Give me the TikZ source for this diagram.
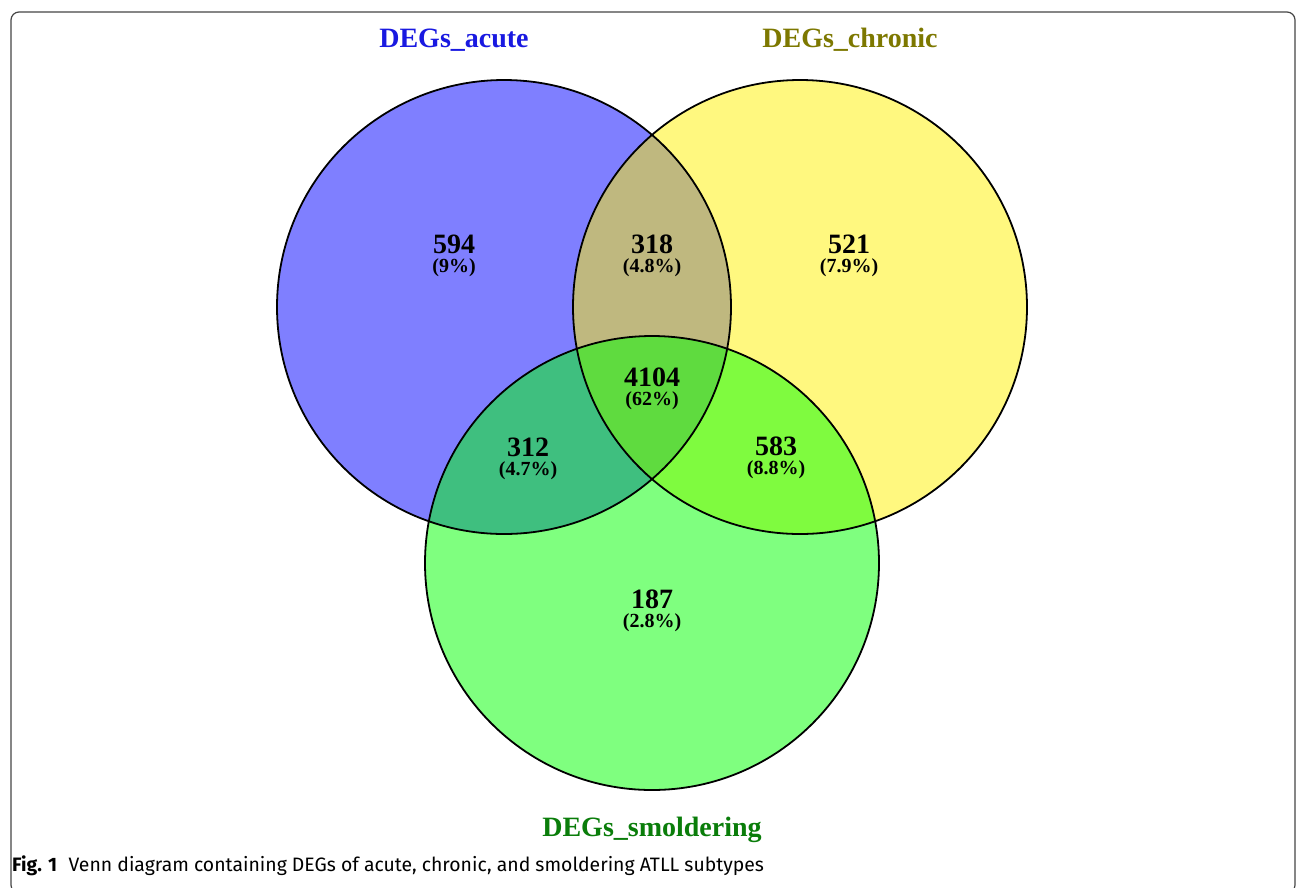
\documentclass[tikz,border=0pt]{standalone}
\usepackage{fontspec}
\setmainfont{Liberation Serif}
\newfontfamily\capfont{Fira Sans}
\definecolor{acuteblue}{RGB}{25,25,225}
\definecolor{chronicolive}{RGB}{125,120,0}
\definecolor{smoldgreen}{RGB}{10,125,10}
\definecolor{framegray}{RGB}{70,70,70}
\tikzset{
  setfill/.style={fill opacity=0.5},
  setline/.style={draw=black, line width=1.8pt},
  countlbl/.style={font=\bfseries\fontsize{28}{30}\selectfont, inner sep=0pt},
  pctlbl/.style={font=\bfseries\fontsize{20}{22}\selectfont, inner sep=0pt},
  titlelbl/.style={font=\bfseries\fontsize{28}{30}\selectfont, inner sep=0pt},
}
\begin{document}
\begin{tikzpicture}[x=1pt,y=-1pt]
\useasboundingbox (0,0) rectangle (1296,887);
\fill[white] (0,0) rectangle (1296,887);
\draw[framegray, line width=1.2pt, rounded corners=8pt] (11,12) rectangle (1295,893);
% centres
\coordinate (A) at (504,307);
\coordinate (C) at (800,307);
\coordinate (S) at (652,563);
% fills
\fill[blue, setfill] (A) circle (227);
\fill[yellow, setfill] (C) circle (227);
\fill[green, setfill] (S) circle (227);
% outlines
\draw[setline] (A) circle (227);
\draw[setline] (C) circle (227);
\draw[setline] (S) circle (227);
% titles
\node[titlelbl, text=acuteblue] (tA) at (454,40) {DEGs\_acute};
\node[titlelbl, text=chronicolive] (tC) at (850,40) {DEGs\_chronic};
\node[titlelbl, text=smoldgreen] (tS) at (652,830) {DEGs\_smoldering};
% counts
\node[countlbl] (n594) at (454,244) {594};
\node[pctlbl] (p594) at (454,268) {(9\%)};
\node[countlbl] (n318) at (652,244) {318};
\node[pctlbl] (p318) at (652,268) {(4.8\%)};
\node[countlbl] (n521) at (849,244) {521};
\node[pctlbl] (p521) at (849,268) {(7.9\%)};
\node[countlbl] (n4104) at (652,377) {4104};
\node[pctlbl] (p4104) at (652,401) {(62\%)};
\node[countlbl] (n312) at (528,447) {312};
\node[pctlbl] (p312) at (528,471) {(4.7\%)};
\node[countlbl] (n583) at (776,446) {583};
\node[pctlbl] (p583) at (776,470) {(8.8\%)};
\node[countlbl] (n187) at (652,599) {187};
\node[pctlbl] (p187) at (652,623) {(2.8\%)};
% caption
\node[anchor=west, inner sep=0pt, font=\capfont\fontsize{19.4}{21}\selectfont] (cap) at (12,866) {\textbf{Fig. 1}\hspace{0.6em}Venn diagram containing DEGs of acute, chronic, and smoldering ATLL subtypes};
\end{tikzpicture}
\end{document}
